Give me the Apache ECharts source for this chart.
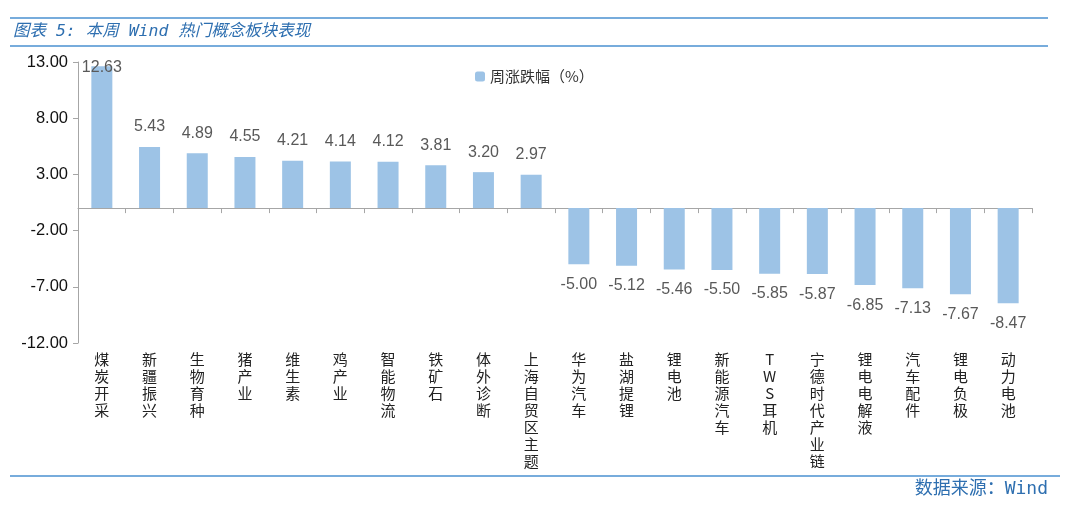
<!DOCTYPE html>
<html><head><meta charset="utf-8">
<script src="https://cdn.jsdelivr.net/npm/echarts@6/dist/echarts.min.js"></script>
<style>html,body{margin:0;padding:0;background:#fff}#c{width:1080px;height:510px}</style>
</head><body><div id="c"></div>
<script>
const categories = ['煤炭开采','新疆振兴','生物育种','猪产业','维生素','鸡产业','智能物流','铁矿石','体外诊断','上海自贸区主题','华为汽车','盐湖提锂','锂电池','新能源汽车','TWS耳机','宁德时代产业链','锂电电解液','汽车配件','锂电负极','动力电池'];
const values = [12.63,5.43,4.89,4.55,4.21,4.14,4.12,3.81,3.20,2.97,-5.00,-5.12,-5.46,-5.50,-5.85,-5.87,-6.85,-7.13,-7.67,-8.47];
const yTicks = [-12,-7,-2,3,8,13];
const seriesName = '周涨跌幅（%）';
const titleText = '图表 5: 本周 Wind 热门概念板块表现';
const sourceText = '数据来源：Wind';

const chart = echarts.init(document.getElementById('c'));
chart.setOption({
  animation:false,
  grid:{left:78,right:48,top:62,bottom:167,containLabel:false},
  legend:{data:[seriesName],left:470,top:64,itemWidth:10,itemHeight:10,itemGap:6,
    textStyle:{fontSize:15,color:'#333',fontFamily:'Noto Sans CJK SC'}},
  xAxis:{type:'category',data:categories,
    axisLine:{onZero:true,lineStyle:{color:'#a6a6a6'}},
    axisTick:{show:true,alignWithLabel:false,length:5,lineStyle:{color:'#a6a6a6'}},
    axisLabel:{interval:0,
      formatter:v=>v.split('').join('\n'),
      fontSize:15,lineHeight:17,color:'#222',fontFamily:'Noto Sans CJK SC',
      verticalAlign:'top'}
  },
  yAxis:{type:'value',min:yTicks[0],max:yTicks[yTicks.length-1],interval:5,
    axisLine:{show:true,lineStyle:{color:'#a6a6a6'}},
    axisTick:{show:true,length:5,lineStyle:{color:'#a6a6a6'}},
    splitLine:{show:false},
    axisLabel:{formatter:v=>v.toFixed(2),fontSize:16.5,color:'#111',margin:10,fontFamily:'Liberation Sans'}
  },
  series:[{name:seriesName,type:'bar',barWidth:21,
    data:values.map((v,i)=>({value:v,label:{position:v<0?'bottom':'top',distance:(i===0?-9:12)}})),
    itemStyle:{color:'#9DC3E6'},
    label:{show:true,formatter:p=>p.value.toFixed(2),
      fontSize:16,color:'#595959',fontFamily:'Liberation Sans'}
  }],
  graphic:[
    {type:'line',shape:{x1:10,y1:18,x2:1048,y2:18},style:{stroke:'#4A90D0',lineWidth:1.5}},
    {type:'line',shape:{x1:10,y1:46,x2:1048,y2:46},style:{stroke:'#4A90D0',lineWidth:1.5}},
    {type:'text',left:13,top:23,style:{text:titleText,fontSize:16.5,fontStyle:'italic',fill:'#2E6FB0',fontFamily:'DejaVu Sans Mono, Noto Sans CJK SC'}},
    {type:'line',shape:{x1:10,y1:476,x2:1060,y2:476},style:{stroke:'#4A90D0',lineWidth:1.5}},
    {type:'text',right:32,top:480,style:{text:sourceText,fontSize:18,fill:'#2E6FB0',fontFamily:'DejaVu Sans Mono, Noto Sans CJK SC'}}
  ]
});
</script></body></html>
